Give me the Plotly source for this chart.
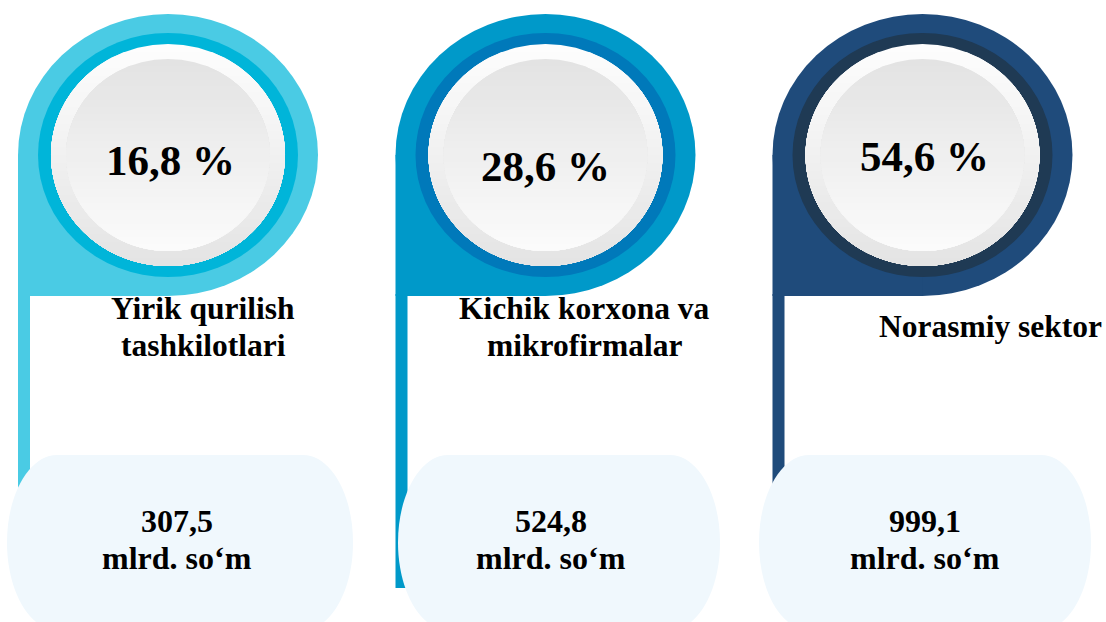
import math
import plotly.graph_objects as go

# ---------------- data ----------------
category_lines = [
    ["Yirik qurilish", "tashkilotlari"],
    ["Kichik korxona va", "mikrofirmalar"],
    ["Norasmiy sektor"],
]
shares_pct = [16.8, 28.6, 54.6]
amounts_bln = [307.5, 524.8, 999.1]
unit_label = "mlrd. so\u2018m"

# ---------------- style / layout ----------------
W, H = 1106, 622
outer_colors = ["#4ACBE4", "#0099C9", "#1F4B7B"]
ring_colors = ["#00B5D9", "#0079BA", "#1F3A54"]
pill_color = "#F0F8FD"
center_x = [168, 545.5, 922.5]
center_y = [155, 155, 155]
bar_end = [520, 588, 520]
pill_x = [(7, 353), (398, 720), (759, 1091)]
pct_pos = [(170, 160), (545, 166), (924, 156)]
label_x = [203, 584, 990]
amount_x = [177, 551, 925]
FONT = "Liberation Serif, Times New Roman, serif"

R_OUT = (150, 141)
R_RING = (130, 122)
R_WHITE = (117, 111)
R_INNER = (102, 96)


def fmt(v):
    return f"{v:.1f}".replace(".", ",")


def lerp_color(c1, c2, t):
    a = [int(c1[i:i + 2], 16) for i in (1, 3, 5)]
    b = [int(c2[i:i + 2], 16) for i in (1, 3, 5)]
    c = [round(a[k] + (b[k] - a[k]) * t) for k in range(3)]
    return "#%02X%02X%02X" % tuple(c)


def cap_path(cx, cy, rx, ry, t, n=48):
    s = max(-1.0, min(1.0, (t - cy) / ry))
    th0 = math.asin(s)
    th1 = math.pi - th0
    pts = []
    for k in range(n + 1):
        th = th0 + (th1 - th0) * k / n
        pts.append((cx + rx * math.cos(th), cy + ry * math.sin(th)))
    return "M " + " L ".join(f"{x:.2f},{y:.2f}" for x, y in pts) + " Z"


def pill_path(x0, x1, y0, y1, a=50):
    b = (y1 - y0) / 2
    k = 0.5523
    return (
        f"M {x0 + a},{y0} L {x1 - a},{y0} "
        f"C {x1 - a + k * a},{y0} {x1},{y0 + b - k * b} {x1},{y0 + b} "
        f"C {x1},{y1 - b + k * b} {x1 - a + k * a},{y1} {x1 - a},{y1} "
        f"L {x0 + a},{y1} "
        f"C {x0 + a - k * a},{y1} {x0},{y1 - b + k * b} {x0},{y1 - b} "
        f"C {x0},{y0 + b - k * b} {x0 + a - k * a},{y0} {x0 + a},{y0} Z"
    )


shapes = []
annotations = []


def ellipse(cx, cy, rx, ry, color):
    shapes.append(dict(type="circle", xref="x", yref="y",
                       x0=cx - rx, x1=cx + rx, y0=cy - ry, y1=cy + ry,
                       fillcolor=color, line=dict(width=0), layer="above"))


def gradient_disk(cx, cy, rx, ry, c_top, c_bottom, steps=28):
    for s in range(steps):
        t = cy - ry + (2 * ry) * s / steps
        col = lerp_color(c_top, c_bottom, s / (steps - 1))
        shapes.append(dict(type="path", xref="x", yref="y",
                           path=cap_path(cx, cy, rx, ry, t),
                           fillcolor=col, line=dict(width=0), layer="above"))


for i in range(len(shares_pct)):
    cx, cy = center_x[i], center_y[i]
    rx, ry = R_OUT
    # vertical bar
    shapes.append(dict(type="rect", xref="x", yref="y",
                       x0=cx - rx, x1=cx - rx + 12, y0=cy + ry - 2, y1=bar_end[i],
                       fillcolor=outer_colors[i], line=dict(width=0), layer="above"))
    # pin: circle + lower-left square
    ellipse(cx, cy, rx, ry, outer_colors[i])
    shapes.append(dict(type="rect", xref="x", yref="y",
                       x0=cx - rx, x1=cx, y0=cy, y1=cy + ry,
                       fillcolor=outer_colors[i], line=dict(width=0), layer="above"))
    # ring
    ellipse(cx, cy, R_RING[0], R_RING[1], ring_colors[i])
    # white bevel disk
    gradient_disk(cx, cy, R_WHITE[0], R_WHITE[1], "#FDFDFD", "#E4E4E4")
    # inner disk
    gradient_disk(cx, cy, R_INNER[0], R_INNER[1], "#E3E3E3", "#FBFBFB")
    # pill
    x0, x1 = pill_x[i]
    shapes.append(dict(type="path", xref="x", yref="y",
                       path=pill_path(x0, x1, 455, 630),
                       fillcolor=pill_color, line=dict(width=0), layer="above"))

    # percentage
    px, py = pct_pos[i]
    annotations.append(dict(x=px, y=py, xref="x", yref="y", showarrow=False,
                            text=fmt(shares_pct[i]) + " %",
                            font=dict(family=FONT, size=43, color="#000000", weight="bold"),
                            xanchor="center", yanchor="middle"))
    # category label lines
    lines = category_lines[i]
    n = len(lines)
    for j, ln in enumerate(lines):
        ly = 326.5 + (j - (n - 1) / 2) * 37
        annotations.append(dict(x=label_x[i], y=ly, xref="x", yref="y", showarrow=False,
                                text=ln,
                                font=dict(family=FONT, size=31.5, color="#000000", weight="bold"),
                                xanchor="center", yanchor="middle"))
    # amount
    annotations.append(dict(x=amount_x[i], y=521, xref="x", yref="y", showarrow=False,
                            text=fmt(amounts_bln[i]),
                            font=dict(family=FONT, size=32, color="#000000", weight="bold"),
                            xanchor="center", yanchor="middle"))
    annotations.append(dict(x=amount_x[i], y=558, xref="x", yref="y", showarrow=False,
                            text=unit_label,
                            font=dict(family=FONT, size=32, color="#000000", weight="bold"),
                            xanchor="center", yanchor="middle"))

fig = go.Figure()
fig.add_trace(go.Scatter(x=[0, W], y=[0, H], mode="markers",
                         marker=dict(opacity=0), hoverinfo="skip", showlegend=False))
fig.update_layout(
    width=W, height=H,
    margin=dict(l=0, r=0, t=0, b=0),
    paper_bgcolor="#FFFFFF", plot_bgcolor="#FFFFFF",
    xaxis=dict(range=[0, W], visible=False, fixedrange=True),
    yaxis=dict(range=[H, 0], visible=False, fixedrange=True),
    shapes=shapes, annotations=annotations, showlegend=False,
)
fig.write_html("out.html", config={"displayModeBar": False},
               post_script="document.body.style.margin='0';document.body.style.overflow='hidden';")
